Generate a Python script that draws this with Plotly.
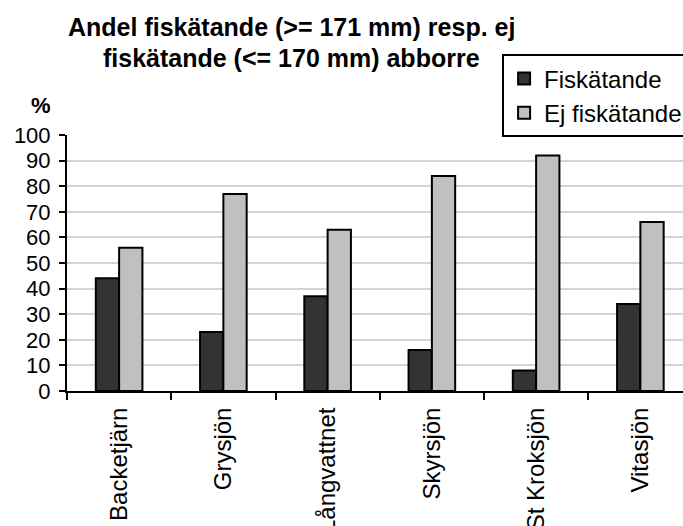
import plotly.graph_objects as go

categories = ["Backetjärn", "Grysjön", "Långvattnet", "Skyrsjön", "St Kroksjön", "Vitasjön"]
fiskatande = [44, 23, 37, 16, 8, 34]
ej_fiskatande = [56, 77, 63, 84, 92, 66]
title_lines = ["Andel fiskätande (&gt;= 171 mm) resp. ej", "fiskätande (&lt;= 170 mm) abborre"]

W, H = 683, 526
L, T, B = 66.7, 134.7, 135
R = 0
FONT = "Liberation Sans"

fig = go.Figure()
fig.add_trace(go.Bar(x=categories, y=fiskatande, name="Fiskätande",
                     marker=dict(color="#333333", line=dict(color="#000000", width=2))))
fig.add_trace(go.Bar(x=categories, y=ej_fiskatande, name="Ej fiskätande",
                     marker=dict(color="#C0C0C0", line=dict(color="#000000", width=2))))

plot_w = W - L - R
cat_w = 104.3
xmax = -0.5 + plot_w / cat_w
plot_h = H - T - B


def px_x(x):
    return (x - L) / plot_w


def px_y(y):
    return (H - B - y) / plot_h


fig.update_layout(
    width=W, height=H,
    margin=dict(l=L, r=R, t=T, b=B, autoexpand=False),
    paper_bgcolor="white", plot_bgcolor="white",
    font=dict(family=FONT, color="black", size=20),
    barmode="group", bargap=0.553, bargroupgap=0,
    legend=dict(x=px_x(502), y=px_y(54), xanchor="left", yanchor="top",
                bordercolor="black", borderwidth=2, bgcolor="white",
                font=dict(family=FONT, size=24, color="black"),
                traceorder="normal", itemsizing="constant", itemwidth=30),
    showlegend=True,
)
fig.update_xaxes(type="category", range=[-0.5, xmax], showline=True, linecolor="black", linewidth=2,
                 ticks="outside", tickson="boundaries", ticklen=7, tickwidth=2, tickcolor="black",
                 tickangle=-90, tickfont=dict(family=FONT, size=24), ticklabelstandoff=5,
                 showgrid=False, automargin=False)
fig.update_yaxes(range=[0, 100], dtick=10, showline=True, linecolor="black", linewidth=2,
                 ticks="outside", ticklen=6, tickwidth=2, tickcolor="black",
                 showgrid=True, gridcolor="#d4d4d4", gridwidth=1.5, zeroline=False,
                 tickfont=dict(family=FONT, size=22), ticklabelstandoff=4, automargin=False)
for line, yc in zip(title_lines, [27, 58]):
    fig.add_annotation(text="<b>" + line + "</b>", xref="paper", yref="paper",
                       x=px_x(291), y=px_y(yc), showarrow=False,
                       xanchor="center", yanchor="middle", font=dict(family=FONT, size=25))
fig.add_annotation(text="<b>%</b>", xref="paper", yref="paper",
                   x=px_x(41), y=px_y(105), showarrow=False,
                   xanchor="center", yanchor="middle", font=dict(family=FONT, size=22))

fig.write_html("out.html")
